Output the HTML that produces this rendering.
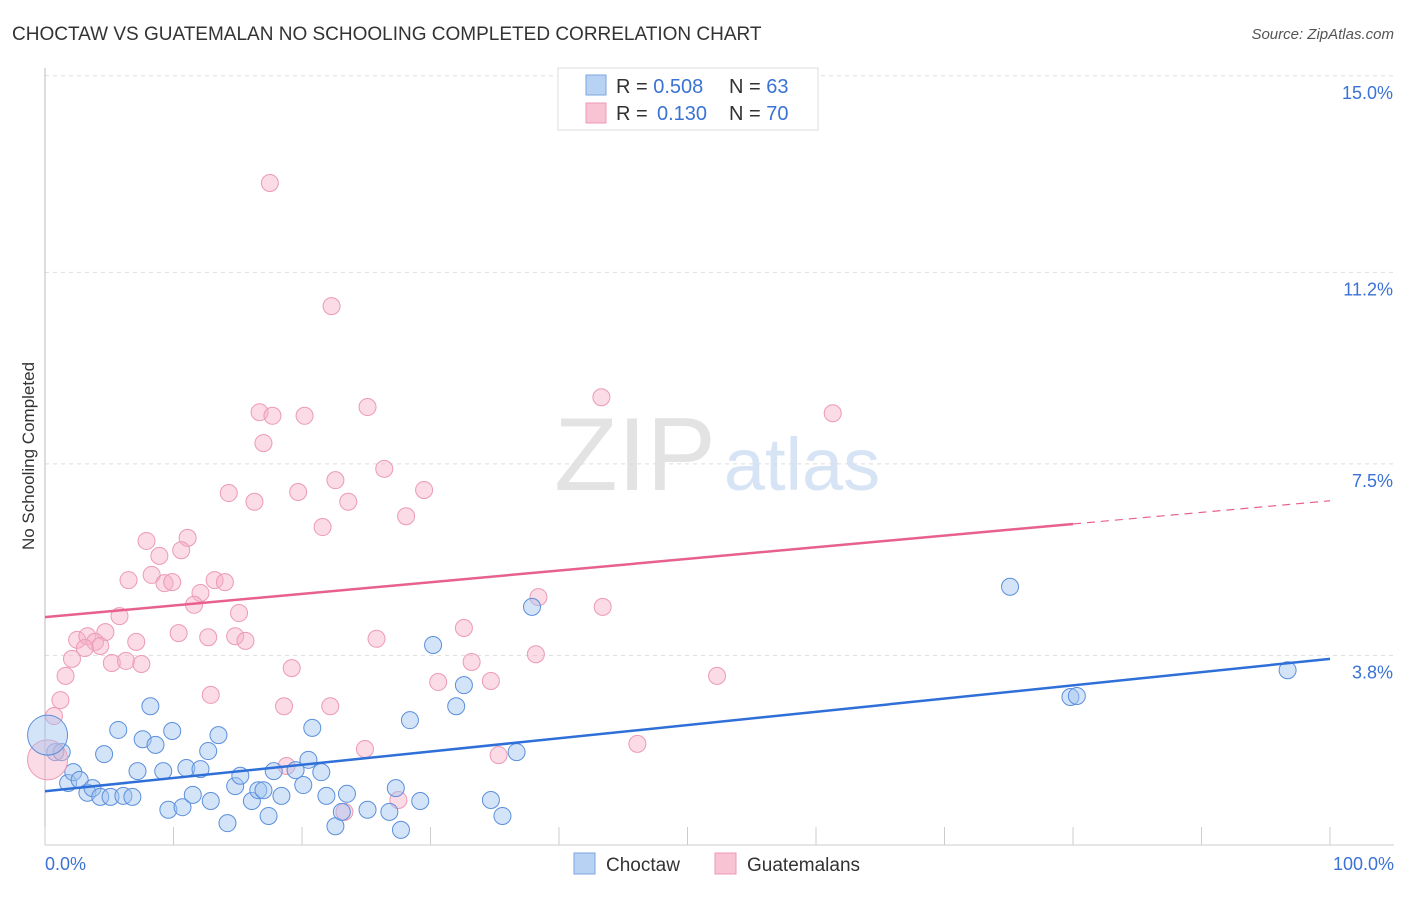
<!DOCTYPE html>
<html><head><meta charset="utf-8"><style>
body{margin:0;background:#fff;font-family:"Liberation Sans",sans-serif;}
svg text{font-family:"Liberation Sans",sans-serif;}
</style></head><body>
<svg width="1406" height="892" viewBox="0 0 1406 892" xmlns="http://www.w3.org/2000/svg">
<text x="12" y="40" font-size="19" fill="#333">CHOCTAW VS GUATEMALAN NO SCHOOLING COMPLETED CORRELATION CHART</text>
<text x="1394" y="39" font-size="15" fill="#555" font-style="italic" text-anchor="end">Source: ZipAtlas.com</text>
<text x="34" y="456" font-size="17" fill="#333" text-anchor="middle" transform="rotate(-90 34 456)">No Schooling Completed</text>
<g><text x="635" y="490" font-size="104" fill="#e3e3e3" font-family="Liberation Serif" text-anchor="middle">ZIP</text><text x="802" y="490" font-size="74" fill="#d7e4f5" text-anchor="middle">atlas</text></g>
<g id="grid"></g><g id="axes"></g><g id="pts"></g><g id="lines"></g>
<g>
<rect x="558" y="68" width="260" height="62" fill="#fff" stroke="#ddd"/>
<rect x="586" y="75" width="20" height="20" fill="#b8d2f4" stroke="#7da6e0"/>
<rect x="586" y="103" width="20" height="20" fill="#f8c4d4" stroke="#ec9ab5"/>
<text x="616" y="93" font-size="20" fill="#333">R = <tspan fill="#3a72d6">0.508</tspan><tspan x="729">N = </tspan><tspan fill="#3a72d6">63</tspan></text>
<text x="616" y="120" font-size="20" fill="#333">R = <tspan fill="#3a72d6" x="657">0.130</tspan><tspan x="729">N = </tspan><tspan fill="#3a72d6">70</tspan></text>
</g>
<g>
<rect x="574" y="853" width="21" height="21" fill="#b8d2f4" stroke="#7da6e0"/>
<text x="606" y="871" font-size="19" fill="#333">Choctaw</text>
<rect x="715" y="853" width="21" height="21" fill="#f8c4d4" stroke="#ec9ab5"/>
<text x="747" y="871" font-size="19" fill="#333">Guatemalans</text>
</g>
</svg>
<script>
const yTicks=[3.8,7.5,11.2,15.0];
const yTickLabels=["3.8%","7.5%","11.2%","15.0%"];
const xTickLabels=["0.0%","100.0%"];
const blueX=[0.8,1.3,1.8,2.2,2.7,3.3,3.7,4.3,4.6,5.1,5.7,6.1,6.8,7.2,7.6,8.2,8.6,9.2,9.6,9.9,10.7,11.0,11.5,12.1,12.7,12.9,13.5,14.2,14.8,15.2,16.1,16.6,17.0,17.4,17.8,18.4,19.5,20.1,20.5,20.8,21.5,21.9,22.6,23.1,23.5,25.1,26.8,27.3,27.7,28.4,29.2,30.2,32.0,32.6,34.7,35.6,36.7,37.9,75.1,79.8,80.3,96.7];
const blueY=[1.94,1.94,1.34,1.55,1.40,1.15,1.24,1.07,1.90,1.07,2.37,1.09,1.07,1.57,2.19,2.83,2.08,1.57,0.82,2.35,0.87,1.63,1.11,1.61,1.96,0.99,2.27,0.56,1.28,1.48,0.99,1.20,1.20,0.70,1.57,1.09,1.59,1.30,1.79,2.41,1.55,1.09,0.50,0.78,1.13,0.82,0.78,1.24,0.43,2.56,0.99,4.02,2.83,3.24,1.01,0.70,1.94,4.76,5.15,3.01,3.03,3.53];
const pinkX=[17.5,22.3,43.3,61.3,25.1,16.7,17.7,20.2,17.0,26.4,22.6,14.3,19.7,29.5,16.3,23.6,28.1,21.6,7.9,11.1,8.9,10.6,8.3,6.5,9.3,9.9,13.2,14.0,12.1,11.6,38.4,43.4,5.8,15.1,32.6,4.7,2.5,3.3,3.9,4.3,3.1,7.1,10.4,12.7,14.8,15.6,25.8,2.1,5.2,6.3,7.5,33.2,19.2,38.2,1.6,30.6,34.7,52.3,12.9,1.2,18.6,22.2,0.7,46.1,24.9,35.3,18.8,27.5,23.3];
const pinkY=[12.99,10.60,8.83,8.52,8.64,8.54,8.47,8.47,7.94,7.44,7.22,6.97,6.99,7.03,6.80,6.80,6.52,6.31,6.04,6.10,5.75,5.86,5.38,5.28,5.22,5.24,5.28,5.24,5.03,4.80,4.95,4.76,4.58,4.64,4.35,4.27,4.12,4.19,4.08,4.00,3.96,4.08,4.25,4.17,4.19,4.10,4.14,3.75,3.67,3.71,3.65,3.69,3.57,3.84,3.42,3.30,3.32,3.42,3.05,2.95,2.83,2.83,2.64,2.10,2.00,1.88,1.67,1.01,0.78];
const bigBlue=[0.2,2.27], bigPink=[0.2,1.79];
const blueTrend=[[0,1.18],[100,3.75]];
const pinkTrend=[[0,4.56],[80,6.37],[100,6.82]];
const NS="http://www.w3.org/2000/svg";
const X=v=>45+v*12.85, Y=v=>852-v*51.5;
const GY=v=>852-v*51.75;
function mk(tag,attrs,parent){const e=document.createElementNS(NS,tag);for(const k in attrs)e.setAttribute(k,attrs[k]);document.getElementById(parent).appendChild(e);return e;}
yTicks.forEach((t,i)=>{
 const l=mk('line',{x1:45,x2:1394,y1:GY(t),y2:GY(t),stroke:'#ddd','stroke-dasharray':'4,4'},'grid');
 
 
 const tx=mk('text',{x:1393,y:GY(t)+23,'font-size':18,fill:'#3a72d6','text-anchor':'end'},'grid');tx.textContent=yTickLabels[i];
 
 
});
const ax=mk('line',{x1:45,x2:45,y1:68,y2:845,stroke:'#bbb'},'axes');


const bx=mk('line',{x1:45,x2:1394,y1:845,y2:845,stroke:'#ccc'},'axes');


for(let i=0;i<=10;i++){const t=mk('line',{x1:X(i*10),x2:X(i*10),y1:827,y2:845,stroke:'#ccc'},'axes');
 
 }
[[0,'start',45],[100,'end',1394]].forEach((d,i)=>{const t=mk('text',{x:d[2],y:870,'font-size':18,fill:'#3a72d6','text-anchor':d[1]},'axes');t.textContent=xTickLabels[i];
 
 });
function dot(x,y,r,c){const f=c==='b'?'rgba(160,195,240,0.45)':'rgba(246,175,198,0.45)',s=c==='b'?'#5b8fdc':'#ec9ab5';
 const e=mk('circle',{cx:X(x),cy:Y(y),r:r,fill:f,stroke:s,'stroke-width':1},'pts');return e;}
pinkX.forEach((x,i)=>{const e=dot(x,pinkY[i],8.5,'p');
 
 });
blueX.forEach((x,i)=>{const e=dot(x,blueY[i],8.5,'b');
 
 });
const bp=dot(bigPink[0],bigPink[1],20,'p');


const bb=dot(bigBlue[0],bigBlue[1],20,'b');


const bl=mk('line',{x1:X(blueTrend[0][0]),y1:Y(blueTrend[0][1]),x2:X(blueTrend[1][0]),y2:Y(blueTrend[1][1]),stroke:'#2f6fd8','stroke-width':2.5},'lines');


const pl=mk('line',{x1:X(pinkTrend[0][0]),y1:Y(pinkTrend[0][1]),x2:X(pinkTrend[1][0]),y2:Y(pinkTrend[1][1]),stroke:'#e8608e','stroke-width':2.5},'lines');


const pd=mk('line',{x1:X(pinkTrend[1][0]),y1:Y(pinkTrend[1][1]),x2:X(pinkTrend[2][0]),y2:Y(pinkTrend[2][1]),stroke:'#e8608e','stroke-width':1.2,'stroke-dasharray':'8,6'},'lines');


</script>
</body></html>
